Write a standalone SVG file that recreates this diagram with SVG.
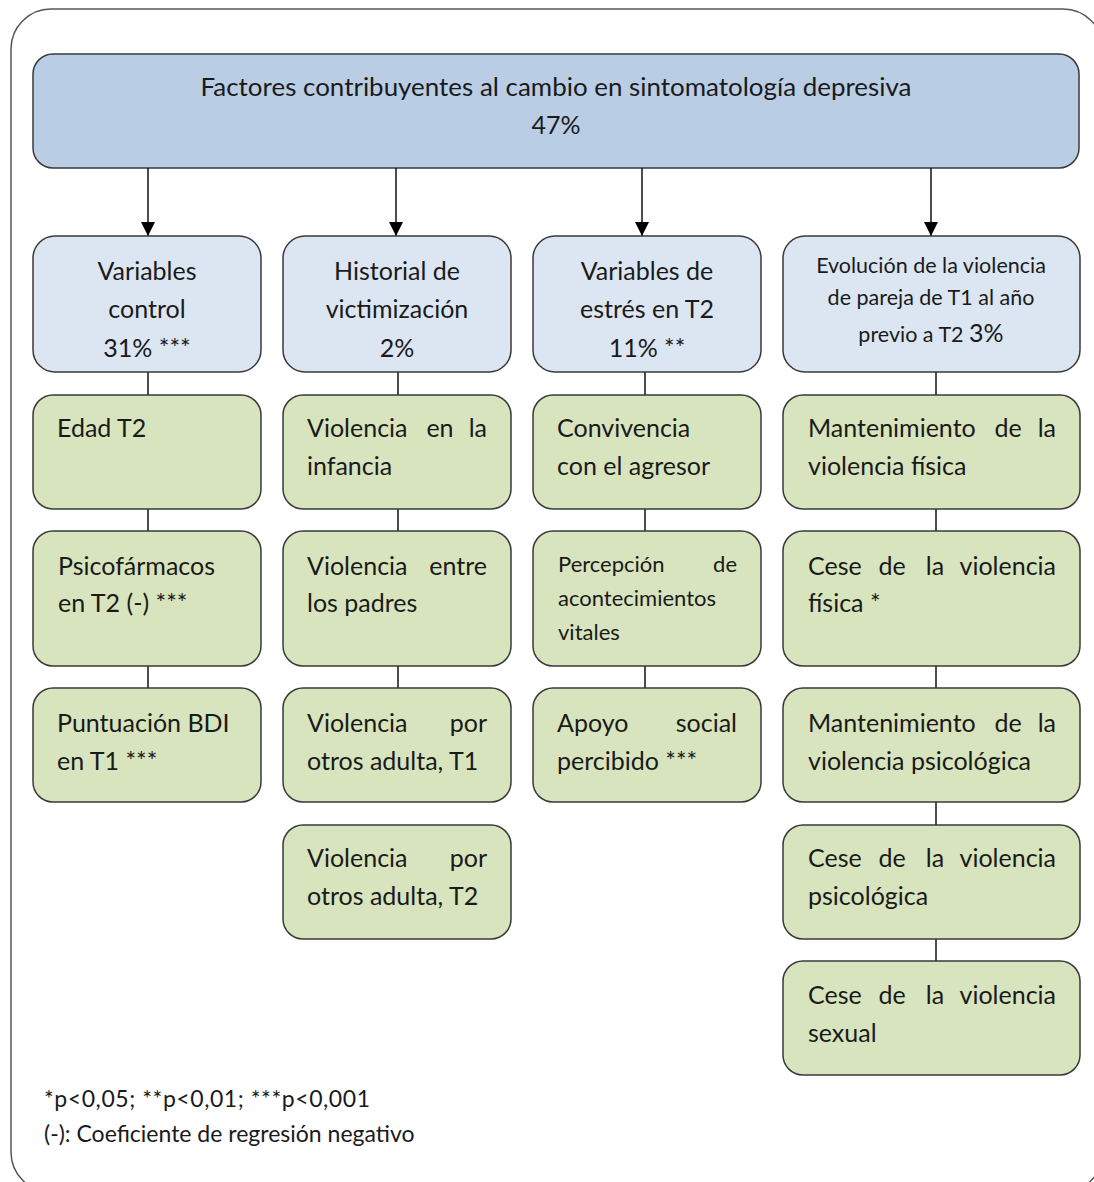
<svg xmlns="http://www.w3.org/2000/svg" width="1094" height="1182" viewBox="0 0 1094 1182">
  <defs>
    <marker id="arrow" markerUnits="userSpaceOnUse" markerWidth="14" markerHeight="16" refX="14" refY="7" orient="auto">
      <path d="M0,0 L14,7 L0,14 Z" fill="#000"/>
    </marker>
    <style>
      .frame { fill: #fff; stroke: #555; stroke-width: 1.5; }
      .top { fill: #b9cde5; stroke: #3a3a3a; stroke-width: 1.5; }
      .cat { fill: #dce6f2; stroke: #3a3a3a; stroke-width: 1.5; }
      .item { fill: #d7e4bd; stroke: #3a3a3a; stroke-width: 1.5; }
      .link { stroke: #111; stroke-width: 1.5; fill: none; }
      .arrow { stroke: #111; stroke-width: 1.5; fill: none; marker-end: url(#arrow); }
      text { font-family: Lato, "Open Sans", "Liberation Sans", sans-serif; fill: #1a1a1a; font-size: 25px; }
      .c { text-anchor: middle; }
      .e { text-anchor: end; }
      .s { font-size: 21.5px; }
      .p { font-size: 22px; }
      .f { font-size: 23px; }
    </style>
  </defs>

  <rect class="frame" x="11" y="9" width="1092" height="1183" rx="40"/>

  <!-- root -->
  <g id="root">
    <rect class="top" x="33" y="54" width="1046" height="114" rx="20"/>
    <text class="c" x="556" y="96" textLength="711" lengthAdjust="spacingAndGlyphs">Factores contribuyentes al cambio en sintomatología depresiva</text>
    <text class="c" x="556" y="134">47%</text>
  </g>

  <!-- connectors -->
  <g id="connectors">
    <line class="arrow" x1="148" y1="168" x2="148" y2="236"/>
    <line class="arrow" x1="396" y1="168" x2="396" y2="236"/>
    <line class="arrow" x1="642" y1="168" x2="642" y2="236"/>
    <line class="arrow" x1="931" y1="168" x2="931" y2="236"/>

    <line class="link" x1="148" y1="372" x2="148" y2="395"/>
    <line class="link" x1="148" y1="509" x2="148" y2="531"/>
    <line class="link" x1="148" y1="666" x2="148" y2="688"/>

    <line class="link" x1="398" y1="372" x2="398" y2="395"/>
    <line class="link" x1="398" y1="509" x2="398" y2="531"/>
    <line class="link" x1="398" y1="666" x2="398" y2="688"/>

    <line class="link" x1="645" y1="372" x2="645" y2="395"/>
    <line class="link" x1="645" y1="509" x2="645" y2="531"/>
    <line class="link" x1="645" y1="666" x2="645" y2="688"/>

    <line class="link" x1="936" y1="372" x2="936" y2="395"/>
    <line class="link" x1="936" y1="509" x2="936" y2="531"/>
    <line class="link" x1="936" y1="666" x2="936" y2="688"/>
    <line class="link" x1="936" y1="802" x2="936" y2="825"/>
    <line class="link" x1="936" y1="939" x2="936" y2="961"/>
  </g>

  <!-- category nodes -->
  <g id="cat-control">
    <rect class="cat" x="33" y="236" width="228" height="136" rx="22"/>
    <text class="c" x="147" y="280">Variables</text>
    <text class="c" x="147" y="318">control</text>
    <text class="c" x="147" y="357">31% ***</text>
  </g>
  <g id="cat-historial">
    <rect class="cat" x="283" y="236" width="228" height="136" rx="22"/>
    <text class="c" x="397" y="280">Historial de</text>
    <text class="c" x="397" y="318">victimización</text>
    <text class="c" x="397" y="357">2%</text>
  </g>
  <g id="cat-estres">
    <rect class="cat" x="533" y="236" width="228" height="136" rx="22"/>
    <text class="c" x="647" y="280">Variables de</text>
    <text class="c" x="647" y="318">estrés en T2</text>
    <text class="c" x="647" y="357">11% **</text>
  </g>
  <g id="cat-evolucion">
    <rect class="cat" x="783" y="236" width="297" height="136" rx="22"/>
    <text class="c s" x="931" y="273">Evolución de la violencia</text>
    <text class="c s" x="931" y="305">de pareja de T1 al año</text>
    <text class="c s" x="931" y="342">previo a T2 <tspan style="font-size:25px">3%</tspan></text>
  </g>

  <!-- column 1 items -->
  <g id="edad">
    <rect class="item" x="33" y="395" width="228" height="114" rx="20"/>
    <text x="57" y="437">Edad T2</text>
  </g>
  <g id="psicofarmacos">
    <rect class="item" x="33" y="531" width="228" height="135" rx="20"/>
    <text x="58" y="575">Psicofármacos</text>
    <text x="58" y="612">en T2 (-) ***</text>
  </g>
  <g id="bdi">
    <rect class="item" x="33" y="688" width="228" height="114" rx="20"/>
    <text x="57" y="732">Puntuación BDI</text>
    <text x="57" y="770">en T1 ***</text>
  </g>

  <!-- column 2 items -->
  <g id="infancia">
    <rect class="item" x="283" y="395" width="228" height="114" rx="20"/>
    <text x="307" y="437">Violencia</text>
    <text class="c" x="440" y="437">en</text>
    <text class="e" x="487" y="437">la</text>
    <text x="307" y="475">infancia</text>
  </g>
  <g id="padres">
    <rect class="item" x="283" y="531" width="228" height="135" rx="20"/>
    <text x="307" y="575">Violencia</text>
    <text class="e" x="487" y="575">entre</text>
    <text x="307" y="612">los padres</text>
  </g>
  <g id="adulta-t1">
    <rect class="item" x="283" y="688" width="228" height="114" rx="20"/>
    <text x="307" y="732">Violencia</text>
    <text class="e" x="487" y="732">por</text>
    <text x="307" y="770">otros adulta, T1</text>
  </g>
  <g id="adulta-t2">
    <rect class="item" x="283" y="825" width="228" height="114" rx="20"/>
    <text x="307" y="867">Violencia</text>
    <text class="e" x="487" y="867">por</text>
    <text x="307" y="905">otros adulta, T2</text>
  </g>

  <!-- column 3 items -->
  <g id="convivencia">
    <rect class="item" x="533" y="395" width="228" height="114" rx="20"/>
    <text x="557" y="437">Convivencia</text>
    <text x="557" y="475">con el agresor</text>
  </g>
  <g id="acontecimientos">
    <rect class="item" x="533" y="531" width="228" height="135" rx="20"/>
    <text class="p" x="558" y="572">Percepción</text>
    <text class="p e" x="737" y="572">de</text>
    <text class="p" x="558" y="606">acontecimientos</text>
    <text class="p" x="558" y="640">vitales</text>
  </g>
  <g id="apoyo">
    <rect class="item" x="533" y="688" width="228" height="114" rx="20"/>
    <text x="557" y="732">Apoyo</text>
    <text class="e" x="737" y="732">social</text>
    <text x="557" y="770">percibido ***</text>
  </g>

  <!-- column 4 items -->
  <g id="mant-fisica">
    <rect class="item" x="783" y="395" width="297" height="114" rx="20"/>
    <text x="808" y="437">Mantenimiento</text>
    <text class="c" x="1008" y="437">de</text>
    <text class="e" x="1056" y="437">la</text>
    <text x="808" y="475">violencia física</text>
  </g>
  <g id="cese-fisica">
    <rect class="item" x="783" y="531" width="297" height="135" rx="20"/>
    <text x="808" y="575">Cese</text>
    <text class="c" x="892" y="575">de</text>
    <text class="c" x="935" y="575">la</text>
    <text class="e" x="1056" y="575">violencia</text>
    <text x="808" y="612">física *</text>
  </g>
  <g id="mant-psicologica">
    <rect class="item" x="783" y="688" width="297" height="114" rx="20"/>
    <text x="808" y="732">Mantenimiento</text>
    <text class="c" x="1008" y="732">de</text>
    <text class="e" x="1056" y="732">la</text>
    <text x="808" y="770">violencia psicológica</text>
  </g>
  <g id="cese-psicologica">
    <rect class="item" x="783" y="825" width="297" height="114" rx="20"/>
    <text x="808" y="867">Cese</text>
    <text class="c" x="892" y="867">de</text>
    <text class="c" x="935" y="867">la</text>
    <text class="e" x="1056" y="867">violencia</text>
    <text x="808" y="905">psicológica</text>
  </g>
  <g id="cese-sexual">
    <rect class="item" x="783" y="961" width="297" height="114" rx="20"/>
    <text x="808" y="1004">Cese</text>
    <text class="c" x="892" y="1004">de</text>
    <text class="c" x="935" y="1004">la</text>
    <text class="e" x="1056" y="1004">violencia</text>
    <text x="808" y="1042">sexual</text>
  </g>

  <!-- legend -->
  <g id="legend">
    <text class="f" x="44" y="1107" textLength="326" lengthAdjust="spacing">*p&lt;0,05; **p&lt;0,01; ***p&lt;0,001</text>
    <text class="f" x="44" y="1142">(-): Coeficiente de regresión negativo</text>
  </g>
</svg>
